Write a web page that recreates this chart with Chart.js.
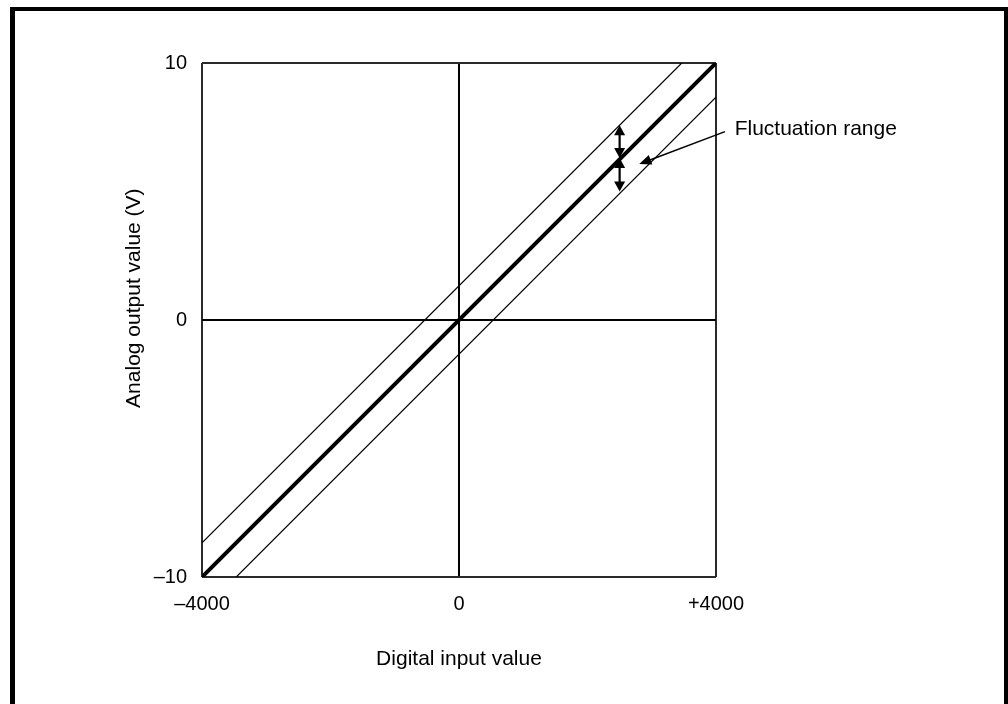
<!DOCTYPE html>
<html lang="en">
    <head>
        <meta charset="UTF-8">
        <title>Analog output fluctuation</title>
        <script src="https://cdn.jsdelivr.net/npm/chart.js"></script>
        <style>
            html, body {
                margin: 0;
                padding: 0;
                background-color: #fff;
                overflow: hidden;
            }
            .frame {
                position: absolute;
                left: 10px;
                top: 7px;
                width: 998px;
                height: 800px;
                box-sizing: border-box;
                border: 4px solid #000;
                border-left-width: 5px;
                border-bottom: none;
                pointer-events: none;
            }
            .chart-container {
                position: absolute;
                left: 0;
                top: 0;
                width: 1008px;
                height: 704px;
            }
        </style>
    </head>
<body>
    <div class="chart-container">
        <canvas id="chartCanvas"></canvas>
    </div>
    <div class="frame"></div>
    <script>
        // ideal conversion line and the two fluctuation limits
        const idealX = [-4000, 4000];
        const idealY = [-10, 10];
        const upperX = [-4000, 3467];
        const upperY = [-8.67, 10];
        const lowerX = [-3467, 4000];
        const lowerY = [-10, 8.67];

        const xTicks = ['\u20134000', '0', '+4000'];
        const yTicks = ['\u201310', '0', '10'];

        // double arrows showing the range, at digital value 2500
        const rangeArrowX = 2500;
        const rangeArrowUpper = [7.58, 6.3];
        const rangeArrowLower = [6.3, 5.0];

        // callout "Fluctuation range"
        const noteLabel = 'Fluctuation range';
        const noteLine = [[4140, 7.33], [2806, 6.07]];
        const noteAt = [4290, 7.42];

        const yTitle = 'Analog output value (V)';

        const FONT = '"Liberation Sans", Arial, sans-serif';

        function toPoints(xs, ys) {
            return xs.map((x, i) => ({ x: x, y: ys[i] }));
        }

        function head(ctx, tx, ty, fx, fy, len, half) {
            const a = Math.atan2(ty - fy, tx - fx);
            ctx.beginPath();
            ctx.moveTo(tx, ty);
            ctx.lineTo(tx - len * Math.cos(a) + half * Math.sin(a), ty - len * Math.sin(a) - half * Math.cos(a));
            ctx.lineTo(tx - len * Math.cos(a) - half * Math.sin(a), ty - len * Math.sin(a) + half * Math.cos(a));
            ctx.closePath();
            ctx.fill();
        }

        const annotations = {
            id: 'annotations',
            afterDatasetsDraw(chart) {
                const ctx = chart.ctx;
                const xs = chart.scales.x;
                const ys = chart.scales.y;
                ctx.save();
                ctx.strokeStyle = '#000';
                ctx.fillStyle = '#000';

                [rangeArrowUpper, rangeArrowLower].forEach(r => {
                    const px = xs.getPixelForValue(rangeArrowX);
                    const y1 = ys.getPixelForValue(r[0]);
                    const y2 = ys.getPixelForValue(r[1]);
                    ctx.lineWidth = 2.2;
                    ctx.beginPath();
                    ctx.moveTo(px, y1 + 6);
                    ctx.lineTo(px, y2 - 6);
                    ctx.stroke();
                    head(ctx, px, y1, px, y2, 10, 5.5);
                    head(ctx, px, y2, px, y1, 10, 5.5);
                });

                const ax = xs.getPixelForValue(noteLine[0][0]);
                const ay = ys.getPixelForValue(noteLine[0][1]);
                const bx = xs.getPixelForValue(noteLine[1][0]);
                const by = ys.getPixelForValue(noteLine[1][1]);
                ctx.lineWidth = 1.5;
                ctx.beginPath();
                ctx.moveTo(ax, ay);
                ctx.lineTo(bx + 8, by - 3);
                ctx.stroke();
                head(ctx, bx, by, ax, ay, 12, 5);

                ctx.font = '21px ' + FONT;
                ctx.textAlign = 'left';
                ctx.textBaseline = 'middle';
                ctx.fillText(noteLabel, xs.getPixelForValue(noteAt[0]), ys.getPixelForValue(noteAt[1]));

                // y title sits a little above the middle of the axis
                ctx.translate(xs.left - 68, ys.getPixelForValue(0.85));
                ctx.rotate(-Math.PI / 2);
                ctx.textAlign = 'center';
                ctx.fillText(yTitle, 0, 0);
                ctx.restore();
            }
        };

        function gridColor(c) {
            return c.tick && c.tick.value === 0 ? '#000' : '#2a2a2a';
        }

        const ctx = document.getElementById('chartCanvas').getContext('2d');
        new Chart(ctx, {
            type: 'scatter',
            data: {
                datasets: [
                    {
                        label: 'Upper limit',
                        data: toPoints(upperX, upperY),
                        showLine: true,
                        borderColor: '#000',
                        borderWidth: 1.2,
                        pointRadius: 0
                    },
                    {
                        label: 'Lower limit',
                        data: toPoints(lowerX, lowerY),
                        showLine: true,
                        borderColor: '#000',
                        borderWidth: 1.2,
                        pointRadius: 0
                    },
                    {
                        label: 'Ideal',
                        data: toPoints(idealX, idealY),
                        showLine: true,
                        borderColor: '#000',
                        borderWidth: 4,
                        pointRadius: 0
                    }
                ]
            },
            options: {
                responsive: true,
                maintainAspectRatio: false,
                animation: false,
                layout: {
                    padding: { top: 63, right: 292, bottom: 0, left: 0 }
                },
                plugins: {
                    legend: { display: false },
                    tooltip: { enabled: false }
                },
                scales: {
                    x: {
                        type: 'linear',
                        min: -4000,
                        max: 4000,
                        afterFit: s => { s.height = 127; },
                        ticks: {
                            stepSize: 4000,
                            padding: 15,
                            color: '#000',
                            font: { family: FONT, size: 20 },
                            callback: (v) => xTicks[(v + 4000) / 4000]
                        },
                        grid: { color: gridColor, lineWidth: 2, drawTicks: false },
                        border: { display: false },
                        title: {
                            display: true,
                            text: 'Digital input value',
                            color: '#000',
                            font: { family: FONT, size: 21 },
                            padding: { top: 0, bottom: 32 }
                        }
                    },
                    y: {
                        type: 'linear',
                        min: -10,
                        max: 10,
                        afterFit: s => { s.width = 202; },
                        ticks: {
                            stepSize: 10,
                            padding: 15,
                            color: '#000',
                            font: { family: FONT, size: 20 },
                            callback: (v) => yTicks[(v + 10) / 10]
                        },
                        grid: { color: gridColor, lineWidth: 2, drawTicks: false },
                        border: { display: false },
                        title: { display: false }
                    }
                }
            },
            plugins: [annotations]
        });
    </script>
</body>
</html>
